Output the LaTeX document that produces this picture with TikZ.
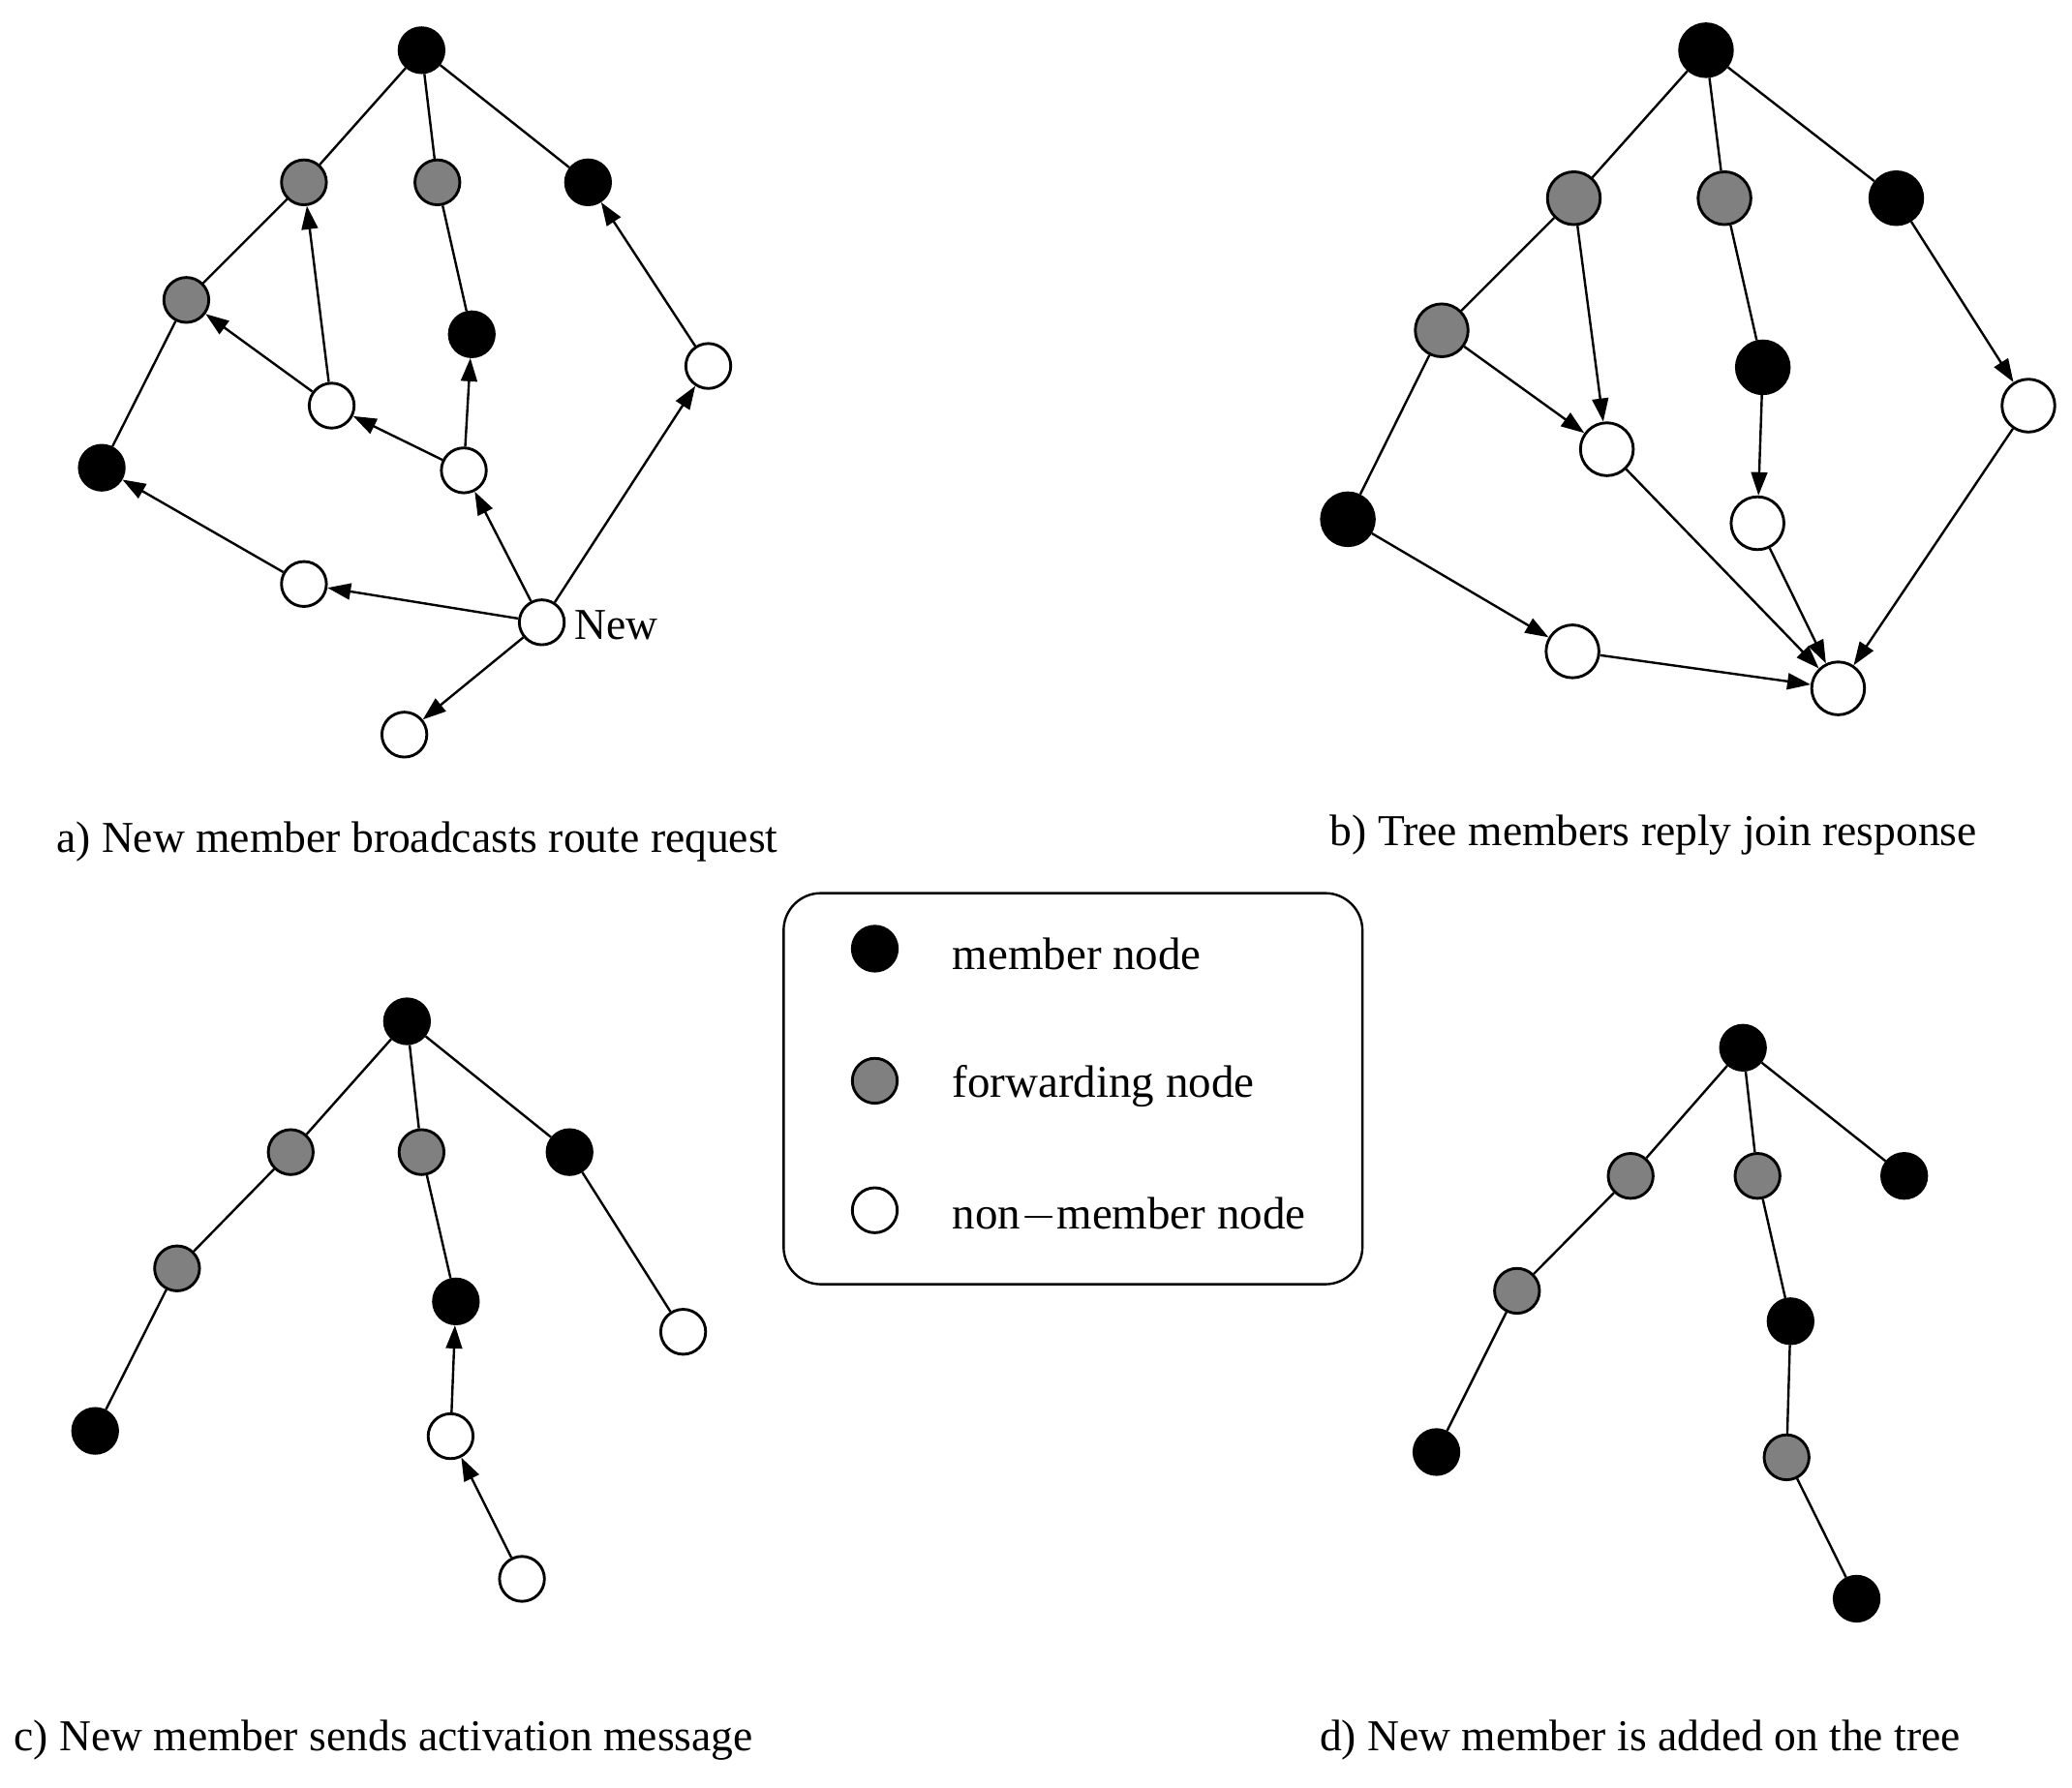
\documentclass[tikz,border=0pt]{standalone}
\usepackage{fontspec}
\setmainfont{Liberation Serif}
\usetikzlibrary{arrows.meta}
\begin{document}
\begin{tikzpicture}[
 nd/.style={circle,draw=black,line width=0.6pt,minimum size=0.34cm,inner sep=0pt},
 B/.style={nd,fill=black},
 G/.style={nd,fill=gray},
 W/.style={nd,fill=white},
 ln/.style={line width=0.5pt},
 ar/.style={line width=0.5pt,-{Triangle[length=5pt,width=3.5pt]}},
 captxt/.style={font=\fontsize{9.5}{11}\selectfont,anchor=base west,inner sep=0pt},
 lg/.style={font=\fontsize{9.8}{11}\selectfont,anchor=west,inner sep=0pt}]
\useasboundingbox (0,0) rectangle (15.68,-13.53);
% panel a
\node[B] (a0) at (3.19,-0.38) {};
\node[G] (a1) at (2.30,-1.38) {};
\node[G] (a2) at (3.31,-1.38) {};
\node[B] (a3) at (4.45,-1.38) {};
\node[G] (a4) at (1.41,-2.27) {};
\node[B] (a5) at (3.57,-2.53) {};
\node[W] (a6) at (5.36,-2.77) {};
\node[W] (a7) at (2.51,-3.07) {};
\node[W] (a8) at (3.51,-3.56) {};
\node[B] (a9) at (0.77,-3.54) {};
\node[W] (a10) at (2.30,-4.42) {};
\node[W] (a11) at (4.10,-4.71) {};
\node[W] (a12) at (3.06,-5.56) {};
\node[font=\fontsize{9.5}{11}\selectfont,anchor=west,inner sep=0pt] (newl) at (4.34,-4.73) {New};
\draw[ln] (a0)--(a1) (a0)--(a2) (a0)--(a3) (a1)--(a4) (a2)--(a5) (a4)--(a9);
\draw[ar] (a7)--(a1); \draw[ar] (a7)--(a4); \draw[ar] (a8)--(a7); \draw[ar] (a8)--(a5);
\draw[ar] (a11)--(a8); \draw[ar] (a11)--(a10); \draw[ar] (a10)--(a9); \draw[ar] (a11)--(a6);
\draw[ar] (a6)--(a3); \draw[ar] (a11)--(a12);
\node[captxt] (ca) at (0.42,-6.45) {a) New member broadcasts route request};
% panel b
\node[B,minimum size=0.4cm] (b0) at (12.91,-0.38) {};
\node[G,minimum size=0.4cm] (b1) at (11.91,-1.50) {};
\node[G,minimum size=0.4cm] (b2) at (13.05,-1.50) {};
\node[B,minimum size=0.4cm] (b3) at (14.35,-1.50) {};
\node[G,minimum size=0.4cm] (b4) at (10.91,-2.50) {};
\node[B,minimum size=0.4cm] (b5) at (13.34,-2.78) {};
\node[W,minimum size=0.4cm] (b6) at (15.35,-3.07) {};
\node[W,minimum size=0.4cm] (b7) at (12.16,-3.40) {};
\node[W,minimum size=0.4cm] (b8) at (13.30,-3.96) {};
\node[B,minimum size=0.4cm] (b9) at (10.20,-3.93) {};
\node[W,minimum size=0.4cm] (b10) at (11.90,-4.93) {};
\node[W,minimum size=0.4cm] (b11) at (13.91,-5.21) {};
\draw[ln] (b0)--(b1) (b0)--(b2) (b0)--(b3) (b1)--(b4) (b2)--(b5) (b4)--(b9);
\draw[ar] (b3)--(b6); \draw[ar] (b1)--(b7); \draw[ar] (b4)--(b7); \draw[ar] (b5)--(b8);
\draw[ar] (b9)--(b10); \draw[ar] (b10)--(b11); \draw[ar] (b7)--(b11); \draw[ar] (b8)--(b11); \draw[ar] (b6)--(b11);
\node[captxt] (cb) at (10.06,-6.40) {b) Tree members reply join response};
% panel c
\node[B] (c0) at (3.08,-7.73) {};
\node[G] (c1) at (2.20,-8.72) {};
\node[G] (c2) at (3.19,-8.72) {};
\node[B] (c3) at (4.31,-8.72) {};
\node[G] (c4) at (1.34,-9.60) {};
\node[B] (c5) at (3.45,-9.85) {};
\node[W] (c6) at (5.17,-10.08) {};
\node[B] (c7) at (0.72,-10.83) {};
\node[W] (c8) at (3.41,-10.87) {};
\node[W] (c9) at (3.95,-11.95) {};
\draw[ln] (c0)--(c1) (c0)--(c2) (c0)--(c3) (c1)--(c4) (c4)--(c7) (c2)--(c5) (c3)--(c6);
\draw[ar] (c8)--(c5); \draw[ar] (c9)--(c8);
\node[captxt] (cc) at (0.10,-13.25) {c) New member sends activation message};
% panel d
\node[B] (d0) at (13.19,-7.93) {};
\node[G] (d1) at (12.34,-8.90) {};
\node[G] (d2) at (13.30,-8.90) {};
\node[B] (d3) at (14.41,-8.90) {};
\node[G] (d4) at (11.48,-9.77) {};
\node[B] (d5) at (13.55,-10.00) {};
\node[B] (d6) at (10.87,-10.99) {};
\node[G] (d7) at (13.52,-11.03) {};
\node[B] (d8) at (14.05,-12.10) {};
\draw[ln] (d0)--(d1) (d0)--(d2) (d0)--(d3) (d1)--(d4) (d4)--(d6) (d2)--(d5) (d5)--(d7) (d7)--(d8);
\node[captxt] (cd) at (9.98,-13.25) {d) New member is added on the tree};
% legend
\draw[line width=0.5pt,rounded corners=8pt] (5.93,-6.76) rectangle (10.31,-9.72);
\node[B] (l1) at (6.62,-7.18) {};
\node[G] (l2) at (6.62,-8.18) {};
\node[W] (l3) at (6.62,-9.16) {};
\node[lg] (t1) at (7.20,-7.22) {member node};
\node[lg] (t2) at (7.20,-8.22) {forwarding node};
\node[lg] (t3) at (7.20,-9.20) {non$-$member node};
\end{tikzpicture}
\end{document}
